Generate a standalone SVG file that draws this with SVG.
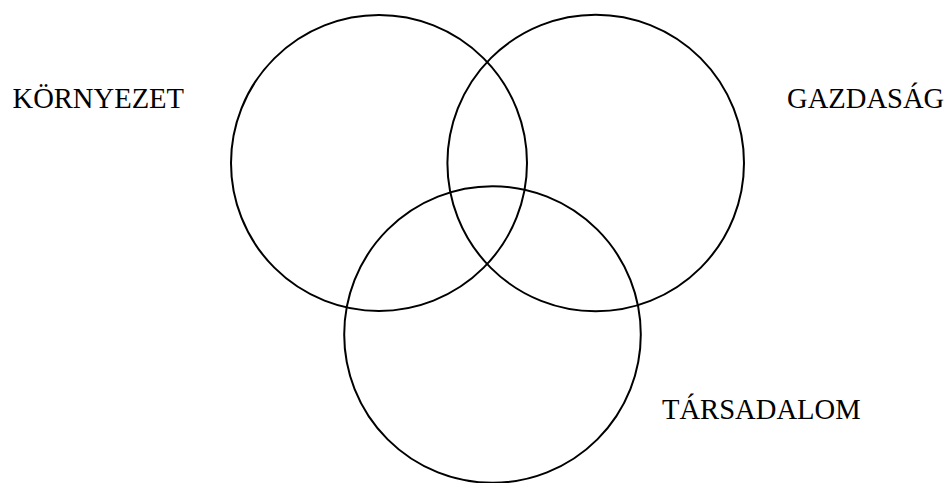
<svg xmlns="http://www.w3.org/2000/svg" width="947" height="483" viewBox="0 0 947 483">
<style>
.c{fill:none;stroke:#000;stroke-width:2}
.t{font-family:"Liberation Serif",serif;font-size:28.6px;fill:#000}
</style>
<rect width="947" height="483" fill="#fff"/>
<g id="kornyezet"><circle class="c" cx="379" cy="163" r="148"/><text class="t" x="12.5" y="107.5">KÖRNYEZET</text></g>
<g id="gazdasag"><circle class="c" cx="595.7" cy="163" r="148.3"/><text class="t" x="787" y="107.5">GAZDASÁG</text></g>
<g id="tarsadalom"><circle class="c" cx="492.5" cy="334.5" r="148.3"/><text class="t" x="662" y="418.5">TÁRSADALOM</text></g>
<g id="connectors"></g>
</svg>
